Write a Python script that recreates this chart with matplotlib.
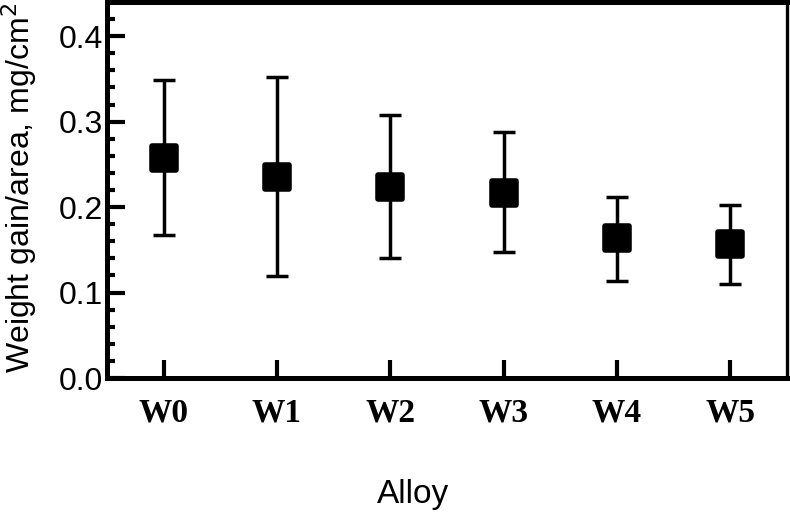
import matplotlib.pyplot as plt
from matplotlib.markers import MarkerStyle
from matplotlib.ticker import MultipleLocator

# Oxidation weight gain per alloy (mean with upper/lower bounds)
alloys = ["W0", "W1", "W2", "W3", "W4", "W5"]
mean_gain = [0.257, 0.235, 0.224, 0.216, 0.164, 0.157]
upper = [0.349, 0.352, 0.308, 0.288, 0.212, 0.202]
lower = [0.167, 0.119, 0.140, 0.147, 0.113, 0.110]

err_low = [m - lo for m, lo in zip(mean_gain, lower)]
err_high = [hi - m for m, hi in zip(mean_gain, upper)]
x = list(range(len(alloys)))

fig = plt.figure(figsize=(7.9, 5.14), dpi=100)
ax = fig.add_axes([107 / 790, 1 - 378 / 514, 680 / 790, 376 / 514])

ax.errorbar(x, mean_gain, yerr=[err_low, err_high], fmt='none',
            ecolor='black', elinewidth=2.5, capsize=8, capthick=2.5)
ax.plot(x, mean_gain, linestyle='none', color='black',
        marker=MarkerStyle('s', joinstyle='round'), markersize=17,
        markeredgewidth=4, markeredgecolor='black', zorder=3)

ax.set_xlim(-0.5, 5.5)
ax.set_ylim(0, 0.44)
ax.set_xticks(x)
ax.set_xticklabels(alloys, fontfamily='Liberation Serif', fontweight='bold',
                   fontsize=24)
ax.yaxis.set_major_locator(MultipleLocator(0.1))
ax.yaxis.set_minor_locator(MultipleLocator(0.02))
ax.yaxis.set_major_formatter(plt.FormatStrFormatter('%.1f'))

ax.tick_params(axis='y', which='major', direction='in', length=13, width=3,
               labelsize=23, pad=3)
ax.tick_params(axis='y', which='minor', direction='in', length=6, width=3)
ax.tick_params(axis='x', which='major', direction='in', length=13, width=3,
               pad=14)
for lab in ax.get_yticklabels():
    lab.set_fontfamily('Liberation Sans')

for side in ['left', 'top', 'bottom']:
    ax.spines[side].set_linewidth(3.6)
ax.spines['right'].set_linewidth(2.4)

fig.text(19 / 790, 1 - 188 / 514, "Weight gain/area, mg/cm$^2$",
         family='Liberation Sans', fontsize=23, rotation=90,
         ha='center', va='center')
fig.text(413 / 790, 1 - 494 / 514, "Alloy", family='Liberation Sans',
         fontsize=24, ha='center', va='center')

fig.savefig("out.png", dpi=100)
